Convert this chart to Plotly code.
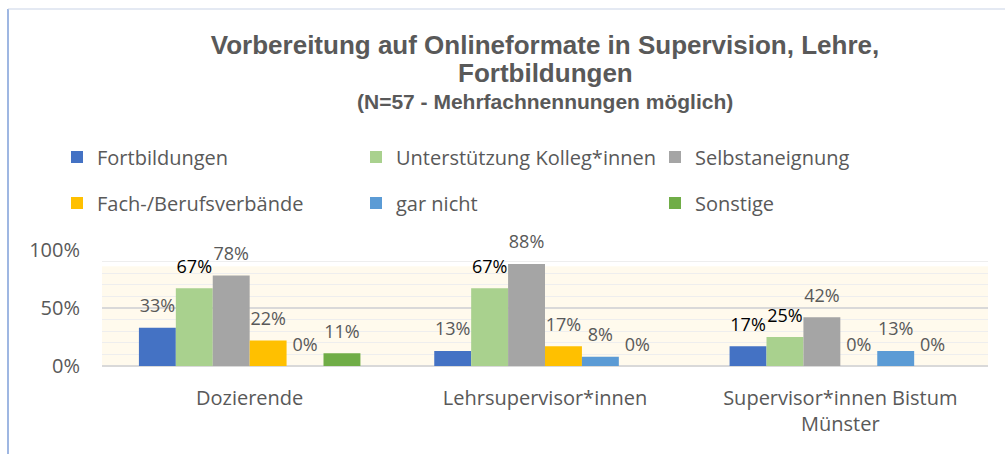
import plotly.graph_objects as go

categories = ["Dozierende", "Lehrsupervisor*innen", "Supervisor*innen Bistum<br>Münster"]
series_names = ["Fortbildungen", "Unterstützung Kolleg*innen", "Selbstaneignung",
                "Fach-/Berufsverbände", "gar nicht", "Sonstige"]
fortbildungen = [0.33, 0.13, 0.17]
unterstuetzung = [0.67, 0.67, 0.25]
selbstaneignung = [0.78, 0.88, 0.42]
verbaende = [0.22, 0.17, 0.00]
gar_nicht = [0.00, 0.08, 0.13]
sonstige = [0.11, 0.00, 0.00]
series_values = [fortbildungen, unterstuetzung, selbstaneignung, verbaende, gar_nicht, sonstige]
colors = ["#4472C4", "#A9D18E", "#A5A5A5", "#FFC000", "#5B9BD5", "#70AD47"]
# label colours (some labels in the original are black)
label_colors = [
    ["#595959", "#595959", "#000000"],
    ["#000000", "#000000", "#000000"],
    ["#595959", "#595959", "#595959"],
    ["#595959", "#595959", "#595959"],
    ["#595959", "#595959", "#595959"],
    ["#595959", "#595959", "#595959"],
]
y_ticks = [0, 0.5, 1.0]
y_ticktext = ["0%", "50%", "100%"]

W, H = 1005, 454
ML, MR, MT, MB = 102, 17, 250, 88
PW = W - ML - MR
PH = H - MT - MB

GRAY = "#595959"
TXT_FONT = "Open Sans"

fig = go.Figure()
for i, (name, vals, col) in enumerate(zip(series_names, series_values, colors)):
    fig.add_trace(go.Bar(
        x=categories, y=vals, name=name, marker=dict(color=col, line=dict(width=0)),
        legend="legend" if i < 3 else "legend2",
        cliponaxis=False,
    ))
for i, (vals, lc) in enumerate(zip(series_values, label_colors)):
    fig.add_trace(go.Scatter(
        x=categories, y=vals, mode="text+markers",
        marker=dict(size=16, opacity=0),
        text=[f"{round(v*100)}%" for v in vals],
        textposition="top center",
        textfont=dict(family=TXT_FONT, size=18, color=lc),
        showlegend=False, hoverinfo="skip", cliponaxis=False,
    ))

def px_x(px):
    return (px - ML) / PW

def px_y(py):
    return (H - MB - py) / PH

fig.update_layout(
    width=W, height=H,
    margin=dict(l=ML, r=MR, t=MT, b=MB),
    paper_bgcolor="white", plot_bgcolor="white",
    barmode="group", bargap=0.25, bargroupgap=0,
    scattermode="group", scattergap=0.25,
    font=dict(family=TXT_FONT, color=GRAY),
    title=dict(
        text="Vorbereitung auf Onlineformate in Supervision, Lehre,",
        x=0.5, xref="paper", xanchor="center",
        y=1 - 45 / H, yref="container", yanchor="middle",
        font=dict(family="Liberation Sans", size=26, color=GRAY, weight="bold"),
    ),
    annotations=[
        dict(text="<b>Fortbildungen</b>", x=0.5, xref="paper", xanchor="center",
             y=px_y(73), yref="paper", yanchor="middle", showarrow=False,
             font=dict(family="Liberation Sans", size=26, color=GRAY)),
        dict(text="<b>(N=57 - Mehrfachnennungen möglich)</b>", x=0.5, xref="paper", xanchor="center",
             y=px_y(101), yref="paper", yanchor="middle", showarrow=False,
             font=dict(family="Liberation Sans", size=21, color=GRAY)),
    ],
    legend=dict(orientation="h", x=px_x(57), xanchor="left", y=px_y(157), yanchor="middle",
                entrywidth=254, entrywidthmode="pixels", traceorder="normal",
                font=dict(family=TXT_FONT, size=20, color=GRAY), bgcolor="rgba(0,0,0,0)"),
    legend2=dict(orientation="h", x=px_x(57), xanchor="left", y=px_y(203), yanchor="middle",
                 entrywidth=254, entrywidthmode="pixels", traceorder="normal",
                 font=dict(family=TXT_FONT, size=20, color=GRAY), bgcolor="rgba(0,0,0,0)"),
    xaxis=dict(showline=False, ticks="", ticklabelstandoff=18,
               tickfont=dict(family=TXT_FONT, size=20, color=GRAY), showgrid=False),
    yaxis=dict(range=[0, 1.0], tickvals=y_ticks, ticktext=y_ticktext,
               showgrid=True, gridcolor="#D9D9D9", gridwidth=1.5,
               zeroline=True, zerolinecolor="#D9D9D9", zerolinewidth=1.5,
               minor=dict(dtick=0.1, showgrid=True, gridcolor="#EEEEEE", gridwidth=1),
               ticks="", ticklabelstandoff=21,
               tickfont=dict(family=TXT_FONT, size=20, color=GRAY)),
    shapes=[
        dict(type="rect", xref="paper", yref="y", x0=0, x1=1, y0=-0.04, y1=0.86,
             fillcolor="rgba(255,242,204,0.35)", line=dict(width=0), layer="below"),
        dict(type="line", xref="paper", yref="paper", x0=px_x(8), x1=px_x(8), y0=px_y(9), y1=px_y(460),
             line=dict(color="#7F9FD8", width=1.5)),
        dict(type="line", xref="paper", yref="paper", x0=px_x(8), x1=px_x(1010), y0=px_y(9), y1=px_y(9),
             line=dict(color="#C9D3E6", width=1)),
    ],
)

fig.write_html("out.html")
